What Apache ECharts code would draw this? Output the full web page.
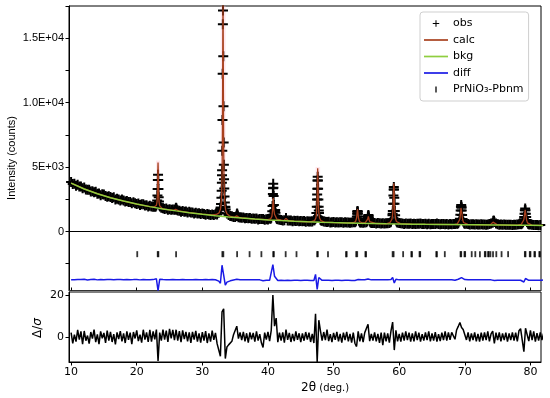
<!DOCTYPE html>
<html>
<head>
<meta charset="utf-8">
<script src="https://cdn.jsdelivr.net/npm/echarts@6/dist/echarts.min.js"></script>
<style>html,body{margin:0;padding:0;background:#fff}#c{width:550px;height:398px}</style>
</head>
<body>
<div id="c"></div>
<script>
// ---- data ----
const obsStart = 10, obsStep = 0.25;
const obsBase = [
3840,3694,3697,3551,3625,3499,3482,3346,
3420,3264,3247,3241,3095,3129,3042,3086,
2930,2941,2812,2884,2865,2756,2687,2739,
2670,2597,2655,2492,2550,2487,2405,2482,
2400,2321,2372,2294,2295,2186,2267,2189,
2140,2175,2060,2105,2120,2025,2040,1945,
2000,1947,1915,1912,2035,4400,1990,1850,
1810,1751,1782,1684,1725,1686,1697,1680,
1850,1622,1615,1537,1590,1532,1545,1477,
1530,1475,1470,1405,1460,1405,1420,1365,
1400,1356,1302,1349,1325,1271,1317,1274,
1330,1327,1445,1757,4370,6907,1875,1397,
1285,1199,1192,1116,1120,1310,1110,1091,
1060,1080,1020,1050,1030,1050,990,1010,
980,1003,935,978,960,973,915,948,
940,1003,1070,2910,1500,1120,949,902,
885,849,880,1040,860,844,848,801,
835,810,835,790,815,800,805,760,
795,771,776,782,878,1030,2875,1630,
915,826,773,749,735,752,698,724,
730,707,724,691,708,714,681,708,
695,702,669,696,708,715,978,1164,
725,697,669,691,720,1181,800,667,
650,657,625,652,640,627,645,612,
630,638,656,767,1370,2627,893,692,
665,633,621,589,617,605,594,612,
590,608,576,604,592,611,579,587,
595,564,592,571,580,589,577,616,
575,564,582,581,560,579,547,576,
565,574,582,611,648,980,1850,768,
605,594,582,541,560,559,547,566,
545,534,552,541,550,529,547,586,
615,678,745,611,570,519,537,526,
535,514,532,521,530,509,527,516,
545,554,582,611,948,1648,738,567,
545,524,512,501,510,489,507,496,
505];
const obsPeaks = [
[22.9,1930],[23.07,2165],[23.12,2405],[23.16,2795],[23.19,3305],[23.22,4000],[23.28,3995],[23.31,3300],[23.35,2660],[23.39,2325],[23.45,2090],[23.55,1940],
[25.9,1700],[25.95,1781],[26.05,1778],[26.1,1696],
[32.73,1690],[32.79,1860],[32.85,2130],[32.91,2610],[32.95,3160],[32.98,3790],[33.01,4750],[33.04,6260],[33.07,8650],[33.1,12240],[33.13,16090],[33.15,17150],[33.19,13600],[33.22,9710],[33.28,5170],[33.31,4055],[33.34,3330],[33.38,2715],[33.43,2250],[33.49,1920],[33.56,1700],
[35.2,1202],[35.3,1402],[35.36,1290],[35.4,1200],
[40.4,990],[40.6,1270],[40.66,1575],[40.7,1980],[40.77,3350],[40.8,3700],[40.83,3400],[40.86,2750],[40.9,2060],[40.95,1637],[41.05,1570],[41.1,1665],[41.15,1450],[41.2,1218],[41.3,1030],[41.4,960],
[47.1,880],[47.2,960],[47.28,1082],[47.38,1435],[47.44,1918],[47.48,2488],[47.52,3315],[47.55,3955],[47.58,4247],[47.61,3955],[47.64,3315],[47.68,2488],[47.72,1918],[47.78,1432],[47.88,1078],[48.1,848],
[53.33,748],[53.43,836],[53.55,1165],[53.59,1375],[53.62,1527],[53.65,1594],[53.68,1527],[53.71,1375],[53.8,977],[53.87,834],[54.1,693],
[55.1,801],[55.17,927],[55.22,1077],[55.3,1277],[55.34,1212],[55.38,1077],[55.43,927],[55.6,716],
[58.68,723],[58.88,929],[58.98,1255],[59.03,1592],[59.08,2158],[59.12,2791],[59.15,3251],[59.18,3450],[59.21,3250],[59.28,2157],[59.33,1590],[59.38,1253],[59.58,790],[59.7,712],
[68.85,598],[69.15,770],[69.32,1290],[69.37,1630],[69.41,1916],[69.45,2048],[69.49,1915],[69.53,1628],[69.58,1288],[69.65,978],[69.9,645],
[74.35,818],[74.4,853],[74.45,818],
[78.6,559],[78.88,715],[79.05,1129],[79.1,1376],[79.15,1649],[79.2,1779],[79.3,1376],[79.35,1129],[79.42,890],[79.52,713],[79.65,608],[79.8,553]
];
const calcPts = [
[10,3750],[12,3300],[14,2930],[16,2620],[18,2360],[20,2130],[22,1930],
[22.25,1920],[22.65,1905],[22.85,1931],[23.0,2032],[23.1,2318],[23.16,2913],[23.2,3909],[23.23,5001],[23.25,5352],[23.27,4996],[23.3,3899],[23.34,2896],[23.4,2291],[23.5,1987],[23.65,1859],[23.85,1799],[24.25,1744],
[25,1675],[25.6,1635],[25.85,1650],[25.93,1720],[26.0,1820],[26.07,1718],[26.15,1645],[26.4,1597],
[28,1460],[30,1340],[31.5,1287],
[32.15,1322],[32.55,1444],[32.75,1700],[32.85,2062],[32.95,3016],[33.01,4530],[33.05,6680],[33.09,10805],[33.12,15290],[33.15,17880],[33.18,15290],[33.21,10800],[33.25,6670],[33.29,4510],[33.35,3000],[33.45,2025],[33.55,1652],[33.75,1370],[34.15,1200],
[34.9,1095],[35.15,1130],[35.23,1210],[35.3,1350],[35.37,1210],[35.45,1120],[35.7,1068],[36,1045],[38,962],[40,915],
[40.4,976],[40.6,1172],[40.7,1645],[40.75,2180],[40.8,2611],[40.85,2228],[40.9,1707],[41.0,1338],[41.1,1410],[41.2,1130],[41.35,960],[41.6,875],
[42.4,840],[42.6,880],[42.75,1020],[42.9,875],[43.1,835],[44,795],[46,755],
[46.6,758],[47.1,844],[47.3,1044],[47.4,1416],[47.46,2010],[47.5,2812],[47.54,4063],[47.58,4897],[47.62,4062],[47.66,2811],[47.7,2008],[47.76,1413],[47.86,1042],[48.06,840],[48.6,725],
[50,690],[52,665],
[53.0,680],[53.35,777],[53.5,1030],[53.58,1426],[53.65,1744],[53.72,1426],[53.8,1030],[53.95,777],[54.3,676],
[54.8,660],[55.1,774],[55.2,952],[55.3,1177],[55.4,950],[55.5,772],[55.8,652],[56.5,618],[58,600],
[58.18,630],[58.58,681],[58.78,779],[58.9,949],[59.0,1335],[59.06,1881],[59.1,2513],[59.14,3306],[59.18,3741],[59.22,3305],[59.26,2511],[59.3,1880],[59.36,1333],[59.46,946],[59.58,775],[59.78,673],[60.18,614],
[62,570],[64,555],[66,545],[68,535],
[68.45,558],[68.85,594],[69.1,701],[69.25,951],[69.35,1420],[69.41,1825],[69.45,1948],[69.49,1824],[69.55,1419],[69.65,949],[69.8,700],[70.05,590],[70.45,548],
[72,515],[73.9,532],[74.2,641],[74.3,724],[74.4,823],[74.5,722],[74.6,640],[74.9,530],[76,495],[78,485],
[78.2,510],[78.6,552],[78.85,666],[79.0,912],[79.1,1307],[79.2,1679],[79.3,1306],[79.4,910],[79.55,664],[79.8,548],[80.2,500],[82,465]
];
const bkgStart = 10, bkgStep = 2;
const bkgVals = [3750,3300,2930,2620,2360,2130,1930,1750,1600,1460,1340,1230,1130,1040,960,900,845,795,755,720,690,665,640,620,600,585,570,555,545,535,525,515,505,495,485,475,465];
const diffOffset = -3770;
const diffVals = [
30,-45,20,-60,50,-15,35,-40,
55,-30,10,-50,40,-20,60,-35,
15,-55,45,-10,30,-40,50,-25,
40,-35,20,-55,35,-15,45,-30,
25,-45,40,-20,30,-50,35,-10,
45,-30,15,-40,50,-20,30,-35,
20,-40,35,-10,100,-830,60,-20,
40,-30,25,-45,30,-15,40,-25,
30,-35,20,-40,35,-20,30,-30,
25,-40,30,-15,35,-30,20,-35,
30,-25,35,-40,20,-30,35,-20,
25,-60,-80,-250,1150,1220,-390,-160,
-110,-60,-30,10,20,60,-10,25,
-20,30,-25,20,-30,25,-15,20,
-25,30,-20,15,-30,-60,20,-10,
25,-20,40,1200,300,150,-30,20,
-20,25,-25,40,-15,20,-25,15,
-20,25,-15,20,-25,15,-20,25,
-15,20,-25,15,-30,440,-725,200,
60,-20,25,-15,60,-20,15,-25,
20,-15,25,-20,15,-25,20,-15,
25,-20,15,-25,20,-30,-100,40,
-20,15,-25,20,15,80,-20,15,
-15,20,-20,15,-25,20,-15,20,
-20,15,-25,40,200,-230,60,-20,
15,-20,20,-15,25,-15,20,-20,
15,-20,25,-15,20,-20,15,-15,
20,-15,25,-20,15,-15,20,-20,
15,-20,20,-15,25,-15,20,-15,
20,30,-15,40,60,100,190,50,
40,-15,20,-20,15,-15,20,-20,
15,-20,20,-15,20,-15,25,-20,
15,30,-40,20,-15,20,-20,15,
-15,20,-20,15,-15,20,-15,20,
-20,30,-15,40,-150,120,30,-20,
20,-15,25,-20,15,-15,20,-15,
15];
const dsigVals = [
2.1,-3.1,1.1,-2.2,3.4,-1.3,2.7,-3.5,
2.9,-1.8,0.7,-3.2,2.4,-0.8,3.6,-2.5,
1.3,-3.4,2.7,-0.6,2.0,-2.8,3.1,-1.7,
2.5,-2.4,1.4,-3.6,2.2,-1.0,2.8,-2.1,
1.7,-2.9,2.7,-1.4,2.1,-3.4,2.4,-0.7,
3.2,-2.0,1.1,-2.7,3.5,-1.3,2.2,-2.4,
3.4,-2.2,2.7,-1.1,3.6,-11.5,2.1,-1.7,
3.6,-1.3,3.1,-2.4,3.9,-0.7,3.4,-1.5,
3.5,-1.8,2.8,-2.5,3.2,-1.0,2.5,-2.1,
2.2,-2.8,2.5,-1.3,2.9,-2.2,1.7,-2.7,
2.4,-1.8,2.8,-2.9,1.7,-2.2,3.1,-1.4,
2.0,-3.2,-3.8,-9.3,12.1,13.6,-10.4,-4.8,
-3.8,-3.4,-2.1,1.1,1.4,5.2,-0.8,2.2,
-1.5,2.5,-2.1,1.8,-2.7,2.2,-1.1,2.0,
-2.2,2.7,-1.7,1.4,-2.8,-5.0,2.1,-1.3,
2.5,-2.0,3.2,20.2,5.2,9.1,-2.5,2.1,
-1.7,2.2,-2.7,3.6,-1.4,2.0,-2.4,1.5,
-2.0,2.7,-1.4,1.8,-2.5,1.7,-1.8,2.4,
-1.3,2.1,-2.4,1.5,-2.9,11.2,-12.0,8.1,
3.0,-1.8,2.4,-1.5,3.6,-2.0,1.4,-2.5,
2.0,-1.4,2.5,-2.1,1.5,-2.7,2.1,-1.5,
2.5,-2.1,1.5,-2.7,2.1,-3.0,-4.6,2.7,
-2.1,1.7,-2.5,2.1,1.7,6.1,-2.0,1.5,
-1.7,2.2,-2.1,1.5,-2.8,2.1,-3.9,2.1,
-2.1,1.7,-2.7,3.0,7.2,-6.3,3.2,-2.1,
1.5,-2.2,2.1,-1.7,2.7,-1.5,2.1,-2.2,
1.7,-2.1,2.7,-1.5,2.1,-2.2,1.4,-1.7,
2.2,-1.5,2.7,-2.1,1.7,-1.7,2.4,-2.2,
1.4,-2.0,2.1,-1.5,2.7,-1.7,2.2,-1.4,
2.2,2.8,-1.1,3.4,5.1,7.0,4.6,3.6,
4.2,-1.4,2.2,-2.1,1.7,-1.5,2.2,-2.1,
1.5,-2.2,2.1,-1.7,2.2,-1.5,2.7,-2.1,
1.5,2.8,-3.1,2.1,-1.5,2.2,-2.1,1.7,
-1.5,2.1,-2.2,1.7,-1.5,2.2,-1.7,2.1,
-2.1,3.0,4.0,4.4,-7.1,4.2,3.4,-2.0,
3.2,-1.5,2.7,-2.2,1.8,-1.7,2.2,-1.5,
1.7];
const reflections = [20.08,23.2,23.3,26.0,33.05,33.2,35.3,37.2,39.0,40.8,40.9,42.7,44.35,47.5,47.6,49.15,51.9,52.0,53.45,53.6,54.85,54.95,59.0,59.15,60.6,61.85,61.95,63.1,63.2,65.65,65.75,66.95,69.35,69.45,69.95,70.05,71.05,71.6,72.3,73.05,73.15,73.55,73.65,73.9,74.3,74.8,75.6,76.6,79.15,79.25,79.9,80.0,80.6,80.7,81.35,81.45];
const reflLevel = -1760;
const xTicks = [10,20,30,40,50,60,70,80];
const yTickValues = [-2500,0,2500,5000,7500,10000,12500,15000,17500];
const yLabelValues = [0,5000,10000,15000];
const yLabelTexts = ['0','5E+03','1.0E+04','1.5E+04'];
const dsigTicks = [0,20];
const legendNames = ['obs','calc','bkg','diff','PrNiO\u2083-Pbnm'];

// ---- build ----
const gridX = (i, s, st) => +(s + i * st).toFixed(4);
const obsData = obsBase.map((v, i) => [gridX(i, obsStart, obsStep), v]).concat(obsPeaks);
const bkgData = bkgVals.map((v, i) => [gridX(i, bkgStart, bkgStep), v]);
const diffData = diffVals.map((v, i) => [gridX(i, obsStart, obsStep), v + diffOffset]);
const dsigData = dsigVals.map((v, i) => [gridX(i, obsStart, obsStep), v]);
const reflData = reflections.map(x => [x, reflLevel]);

const plusPath = 'path://M0.4,0H0.6V0.4H1V0.6H0.6V1H0.4V0.6H0V0.4H0.4Z';
const plusLegend = 'path://M-0.35,-0.35h0.001v0.001h-0.001Z M1.35,1.35h0.001v0.001h-0.001Z M0.42,0H0.58V0.42H1V0.58H0.58V1H0.42V0.58H0V0.42H0.42Z';
const barLegend = 'path://M0,0h0.01v0.01h-0.01Z M0,2.5H1.6V8.5H0Z M0,11h0.01v0.01h-0.01Z';
const lineLegend = 'path://M0,0H24V1.7H0Z';

const XMIN = 9.68, XMAX = 81.61;
const DJ = 'DejaVu Sans', LS = 'Liberation Sans';
const calcColor = '#a8401e', bkgColor = '#8fce3f', diffColor = '#1a1ae6';

const chart = echarts.init(document.getElementById('c'), null, {renderer: 'canvas'});
chart.setOption({
  animation: false,
  backgroundColor: '#fff',
  grid: [
    {left: 69, top: 6, width: 472, height: 284.5, show: true, borderColor: '#000', borderWidth: 1},
    {left: 69, top: 292, width: 472, height: 70, show: true, borderColor: '#000', borderWidth: 1}
  ],
  xAxis: [
    {type: 'value', gridIndex: 0, min: XMIN, max: XMAX,
     axisLine: {show: true, onZero: false, lineStyle: {color: '#333', width: 1}},
     axisTick: {show: true, inside: true, length: 3, customValues: xTicks, lineStyle: {color: '#000'}},
     axisLabel: {show: false}, splitLine: {show: false}},
    {type: 'value', gridIndex: 1, min: XMIN, max: XMAX,
     axisLine: {show: true, onZero: false, lineStyle: {color: '#000', width: 1}},
     axisTick: {show: true, length: 3.5, customValues: xTicks, lineStyle: {color: '#000'}},
     axisLabel: {show: true, customValues: xTicks, margin: 5, color: '#000', fontFamily: DJ, fontSize: 11},
     splitLine: {show: false}}
  ],
  yAxis: [
    {type: 'value', gridIndex: 0, min: -4580, max: 17500,
     axisLine: {show: true, onZero: false, lineStyle: {color: '#000', width: 1}},
     axisTick: {show: true, length: 3.5, customValues: yTickValues, lineStyle: {color: '#000'}},
     axisLabel: {show: true, customValues: yLabelValues, margin: 5, color: '#000', fontFamily: LS, fontSize: 11,
       formatter: v => yLabelTexts[yLabelValues.indexOf(v)] ?? ''},
     splitLine: {show: false}},
    {type: 'value', gridIndex: 1, min: -12.05, max: 21.69,
     axisLine: {show: true, onZero: false, lineStyle: {color: '#000', width: 1}},
     axisTick: {show: true, length: 3.5, customValues: dsigTicks, lineStyle: {color: '#000'}},
     axisLabel: {show: true, customValues: dsigTicks, margin: 5, color: '#000', fontFamily: DJ, fontSize: 11},
     splitLine: {show: false}}
  ],
  legend: {
    data: [
      {name: legendNames[0], icon: plusLegend},
      {name: legendNames[1], icon: lineLegend},
      {name: legendNames[2], icon: lineLegend},
      {name: legendNames[3], icon: lineLegend},
      {name: legendNames[4], icon: barLegend}
    ],
    orient: 'vertical', left: 420, top: 12,
    itemWidth: 24, itemHeight: 11, itemGap: 5.5, padding: [6, 5, 6, 4],
    backgroundColor: '#fff', borderColor: '#cfcfcf', borderWidth: 1, borderRadius: 3,
    textStyle: {fontFamily: DJ, fontSize: 11, color: '#000'},
    selectedMode: false
  },
  graphic: [
    {type: 'text', x: 12, y: 158, rotation: Math.PI / 2, silent: true,
     style: {text: 'Intensity (counts)', font: '11px "Liberation Sans"', fill: '#000', align: 'center', verticalAlign: 'middle'}},
    {type: 'text', x: 38, y: 328, rotation: Math.PI / 2, silent: true,
     style: {text: '{a|\u0394/}{b|\u03c3}', align: 'center', verticalAlign: 'middle',
       rich: {a: {fontFamily: DJ, fontSize: 12, fill: '#000'}, b: {fontFamily: DJ, fontSize: 12, fontStyle: 'italic', fill: '#000'}}}},
    {type: 'text', x: 301, y: 388, silent: true,
     style: {text: '{a|2\u03b8} {b|(deg.)}', align: 'left', verticalAlign: 'middle',
       rich: {a: {fontFamily: DJ, fontSize: 12, fill: '#000'}, b: {fontFamily: DJ, fontSize: 10, fill: '#000'}}}}
  ],
  series: [
    {name: 'obs', type: 'scatter', xAxisIndex: 0, yAxisIndex: 0, data: obsData,
     symbol: plusPath, symbolSize: 10, itemStyle: {color: '#000', opacity: 1}, z: 2, silent: true},
    {name: 'calc', type: 'line', xAxisIndex: 0, yAxisIndex: 0, data: calcPts, symbol: 'none',
     lineStyle: {color: calcColor, width: 1.3}, itemStyle: {color: calcColor}, z: 3, silent: true,
     markArea: {silent: true, itemStyle: {color: 'rgba(255,185,205,0.35)'},
       data: [[{xAxis: 22.95, yAxis: 1900}, {xAxis: 23.55, yAxis: 5500}],
              [{xAxis: 32.8, yAxis: 1300}, {xAxis: 33.55, yAxis: 17500}],
              [{xAxis: 47.25, yAxis: 800}, {xAxis: 47.95, yAxis: 5000}]]}},
    {name: 'bkg', type: 'line', xAxisIndex: 0, yAxisIndex: 0, data: bkgData, symbol: 'none',
     lineStyle: {color: bkgColor, width: 1.5}, itemStyle: {color: bkgColor}, z: 4, silent: true,
     markLine: {silent: true, symbol: 'none', label: {show: false}, lineStyle: {color: '#000', width: 1.2, type: 'solid'},
       data: [{yAxis: 0}]}},
    {name: 'diff', type: 'line', xAxisIndex: 0, yAxisIndex: 0, data: diffData, symbol: 'none',
     lineStyle: {color: diffColor, width: 1.5}, itemStyle: {color: diffColor}, z: 4, silent: true},
    {name: legendNames[4], type: 'scatter', xAxisIndex: 0, yAxisIndex: 0, data: reflData,
     symbol: 'rect', symbolSize: [1.8, 6], itemStyle: {color: '#000'}, z: 4, silent: true},
    {name: 'dsig', type: 'line', xAxisIndex: 1, yAxisIndex: 1, data: dsigData, symbol: 'none',
     lineStyle: {color: '#000', width: 1.5}, z: 3, silent: true}
  ]
});
</script>
</body>
</html>
